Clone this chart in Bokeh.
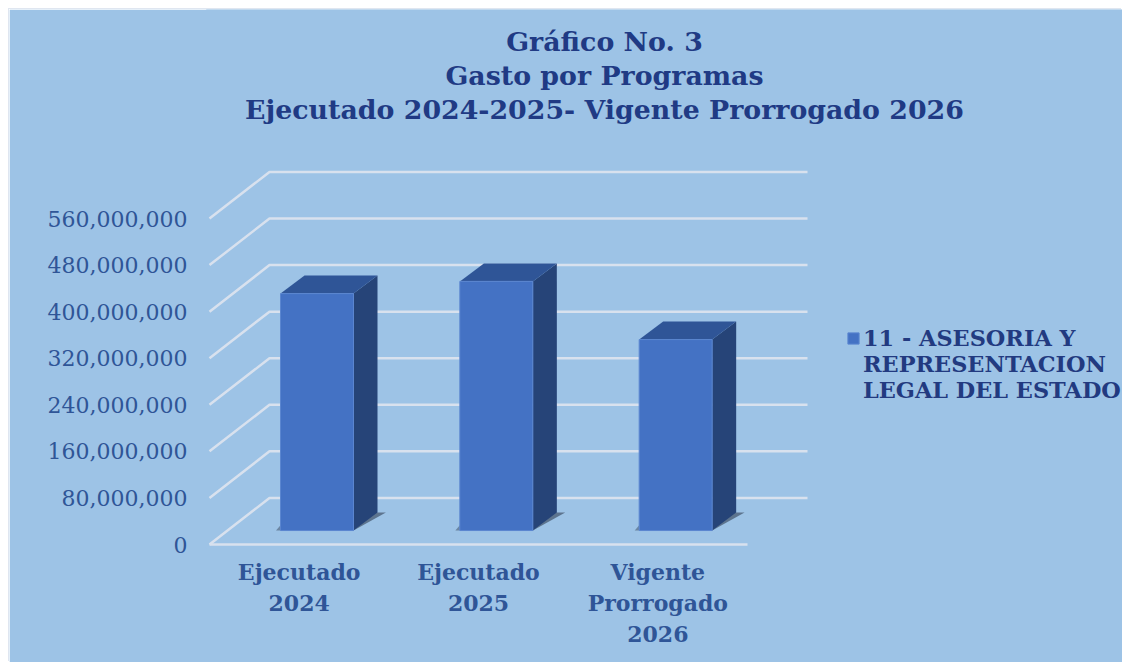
from bokeh.plotting import figure
from bokeh.models import Range1d, FixedTicker, NumeralTickFormatter, Legend, LegendItem, Label, ColumnDataSource
from bokeh.embed import file_html
from bokeh.resources import INLINE

categories = ["Ejecutado\n2024", "Ejecutado\n2025", "Vigente\nProrrogado\n2026"]
values = [407000000, 428000000, 328000000]
ticks = [0, 80000000, 160000000, 240000000, 320000000, 400000000, 480000000, 560000000]
series_lines = ["11 - ASESORIA Y", "REPRESENTACION", "LEGAL DEL ESTADO"]
title_lines = ["Gráfico No. 3", "Gasto por Programas", "Ejecutado 2024-2025- Vigente Prorrogado 2026"]

SERIF = "DejaVu Serif"
BG = "#9DC3E6"
GRID = "#D8E1EE"
FRONT, SIDE, TOP = "#4472C4", "#264478", "#2F5597"

W, H = 1113, 653
ORIGIN = 9
px_x = 538 / 3                # pixels per category
px_y = 46.57 / 80000000       # pixels per value unit
pad = 3
wall_dx = 60 / px_x
wall_dy = 80000000
bar_w = 0.407
bar_off_x = 0.0995
bar_base = 24000000
bar_dx = 24 / px_x
bar_dy = 18 / px_y

x0, x1 = -0.5, 2.5
floor_px, floor_py = 209, 544

def data_x(px):
    return x0 + (px - floor_px) / px_x

def data_y(py):
    return (floor_py - py) / px_y

x_range = Range1d(data_x(floor_px - pad), data_x(ORIGIN + W))
y_range = Range1d(data_y(floor_py + pad), data_y(ORIGIN + 1))

p = figure(width=W, height=H, x_range=x_range, y_range=y_range, output_backend="svg",
           toolbar_location=None, background_fill_color=BG, border_fill_color=BG,
           outline_line_color=BG, outline_line_width=2,
           min_border_left=floor_px - pad - ORIGIN, min_border_right=0,
           min_border_top=1, min_border_bottom=ORIGIN + H - floor_py - pad)
p.margin = (ORIGIN, 0, 0, ORIGIN)
p.styles = {"box-shadow": "-1px -1px 0 #DFE6F0"}
p.grid.visible = False

# Walls
xs, ys = [], []
for v in ticks:
    xs.append([x0, x0 + wall_dx, x1 + wall_dx])
    ys.append([v, v + wall_dy, v + wall_dy])
xs.append([x0, x1]); ys.append([0, 0])
p.multi_line(xs, ys, line_color=GRID, line_width=2.5)

# Bars
cx = [i + bar_off_x for i in range(len(values))]
lefts = [c - bar_w / 2 for c in cx]
rights = [c + bar_w / 2 for c in cx]
tops = [bar_base + v for v in values]

shadow_x = [[r, r + bar_dx * 1.35, r + bar_dx * 0.9, r] for r in rights]
shadow_y = [[bar_base, bar_base + bar_dy, bar_base + bar_dy, bar_base + bar_dy * 0.1] for _ in rights]
p.patches(shadow_x, shadow_y, fill_color="#3A4A60", fill_alpha=0.65, line_color=None)
shadow_lx = [[l - 0.025, l, l] for l in lefts]
shadow_ly = [[bar_base, bar_base, bar_base + bar_dy * 0.3] for _ in lefts]
p.patches(shadow_lx, shadow_ly, fill_color="#3A4A60", fill_alpha=0.5, line_color=None)

side_x = [[r, r + bar_dx, r + bar_dx, r] for r in rights]
side_y = [[bar_base, bar_base + bar_dy, t + bar_dy, t] for t in tops]
p.patches(side_x, side_y, fill_color=SIDE, line_color=None)
top_x = [[l, l + bar_dx, r + bar_dx, r] for l, r in zip(lefts, rights)]
top_y = [[t, t + bar_dy, t + bar_dy, t] for t in tops]
p.patches(top_x, top_y, fill_color=TOP, line_color=None)
src = ColumnDataSource(dict(x=cx, bottom=[bar_base] * len(cx), top=tops))
front = p.vbar(x="x", bottom="bottom", top="top", width=bar_w, source=src,
               fill_color=FRONT, line_color="#5B86D0", line_width=1)

# Axes
p.yaxis.ticker = FixedTicker(ticks=ticks)
p.yaxis.formatter = NumeralTickFormatter(format="0,0")
p.yaxis.axis_line_color = None
p.yaxis.major_tick_line_color = None
p.yaxis.minor_tick_line_color = None
p.yaxis.major_label_standoff = 13
p.yaxis.major_label_text_font = SERIF
p.yaxis.major_label_text_font_size = "22px"
p.yaxis.major_label_text_color = "#2F5597"

p.xaxis.ticker = FixedTicker(ticks=list(range(len(categories))))
p.xaxis.major_label_overrides = {i: c for i, c in enumerate(categories)}
p.xaxis.axis_line_color = None
p.xaxis.major_tick_line_color = None
p.xaxis.minor_tick_line_color = None
p.xaxis.major_label_standoff = 5
p.xaxis.major_label_text_font = SERIF
p.xaxis.major_label_text_font_style = "bold"
p.xaxis.major_label_text_font_size = "22px"
p.xaxis.major_label_text_color = "#2F5597"

# Title
for line, py in zip(title_lines, [41, 75, 109]):
    p.add_layout(Label(x=data_x(604), y=data_y(py), text=line, text_align="center",
                       text_baseline="middle", text_font=SERIF, text_font_style="bold",
                       text_font_size="26.8px", text_color="#203A84"))

# Legend
items = [LegendItem(label=series_lines[0], renderers=[front])]
items += [LegendItem(label=s, renderers=[]) for s in series_lines[1:]]
legend = Legend(items=items,
                location=(640, 144), background_fill_alpha=0, border_line_color=None,
                label_text_font=SERIF, label_text_font_style="bold", label_text_font_size="22.4px",
                label_text_color="#223A80", glyph_width=14, glyph_height=14,
                label_standoff=3, padding=0, margin=0, spacing=0, label_height=26)
p.add_layout(legend, "center")

open("out.html", "w").write(file_html(p, INLINE))
